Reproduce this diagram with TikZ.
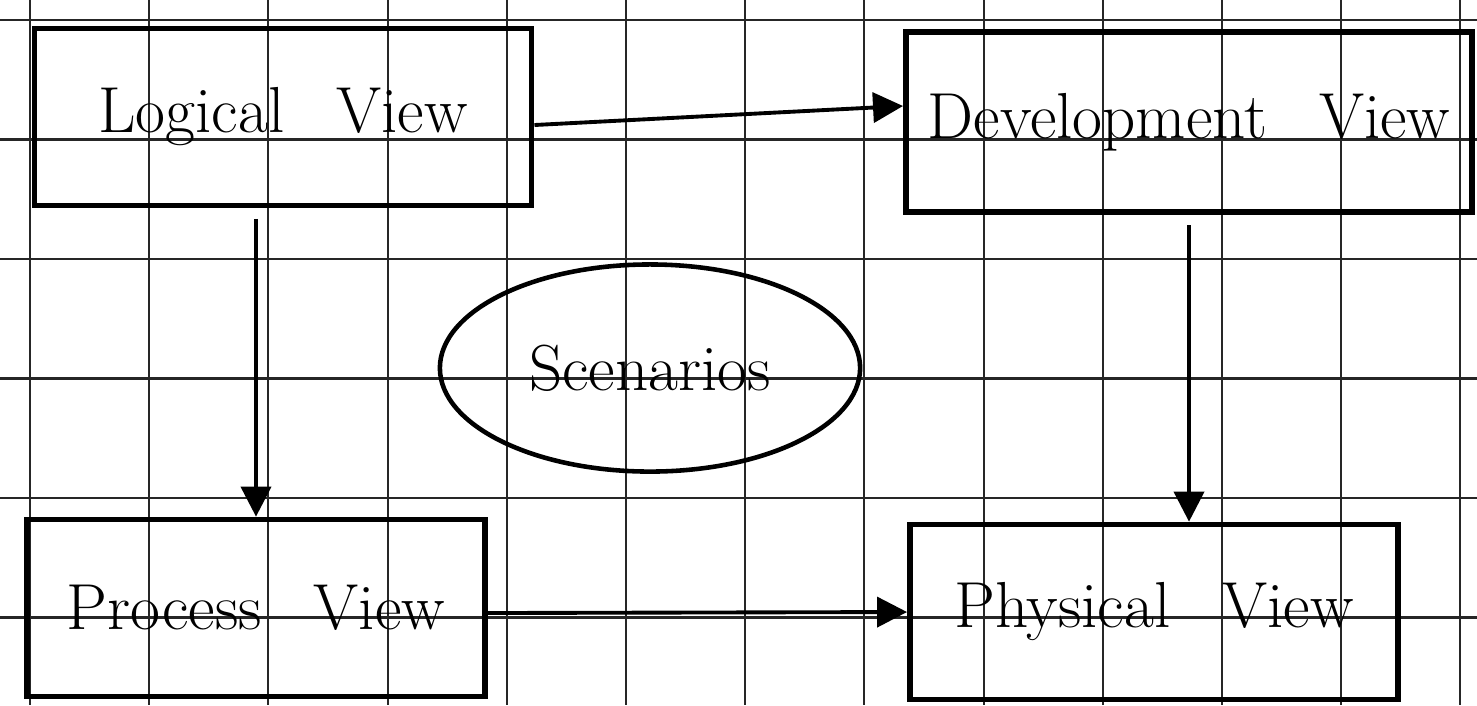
\documentclass[tikz,border=0pt]{standalone}
\usetikzlibrary{arrows.meta,shapes.geometric}
\newcommand\handfont{\fontsize{18.5}{22}\selectfont\spaceskip=0.8em\relax}
\begin{document}
\begin{tikzpicture}[x=0.01cm,y=-0.01cm,
    gridline/.style={black!85,line width=0.6pt},
    viewbox/.style={draw,rectangle,line width=1.6pt,inner sep=0pt,font=\handfont},
    flow/.style={-{Triangle[length=0.3cm,width=0.3cm]},line width=1.1pt}]
  \useasboundingbox (0,0) rectangle (1477,705);
  % grid paper
  \foreach \i in {0,...,12}
    \draw[gridline] (30+119.2*\i,0) -- (30+119.2*\i,705);
  \foreach \j in {0,...,5}
    \draw[gridline] (0,20+119.5*\j) -- (1477,20+119.5*\j);
  % the views
  \node[viewbox,minimum width=4.97cm,minimum height=1.77cm] (logical) at (283,117) {Logical View};
  \node[viewbox,minimum width=5.66cm,minimum height=1.8cm] (develop) at (1189,122) {Development View};
  \node[viewbox,minimum width=4.58cm,minimum height=1.77cm] (process) at (256,608) {Process View};
  \node[viewbox,minimum width=4.88cm,minimum height=1.75cm] (physical) at (1154,612) {Physical View};
  \node[draw,ellipse,line width=1.3pt,inner sep=0pt,minimum width=4.2cm,minimum height=2.07cm,font=\handfont] (scen) at (650,368) {Scenarios};
  \draw[flow] ([yshift=-0.08cm]logical.east) -- ([yshift=0.16cm]develop.west);
  \draw[flow,shorten <=3pt] (process.north |- logical.south) -- (process.north);
  \draw[flow,shorten <=3pt] (develop.south) -- (develop.south |- physical.north);
  \draw[flow] ([yshift=-0.05cm]process.east) -- (physical.west);
\end{tikzpicture}
\end{document}
